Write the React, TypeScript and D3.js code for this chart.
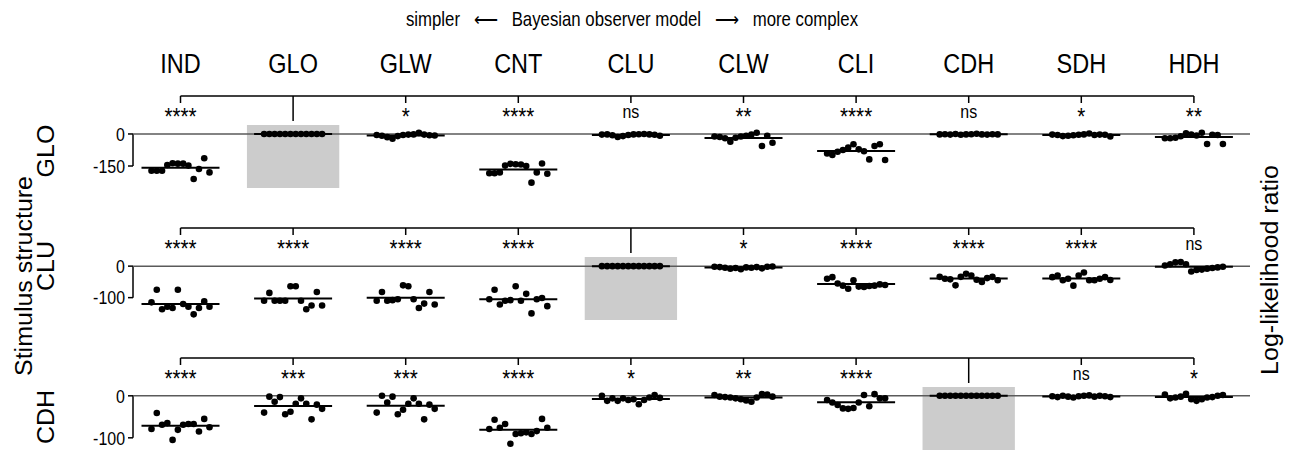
import React from "react";
import * as d3 from "d3";

// ---------- data ----------
const MODELS = ["IND", "GLO", "GLW", "CNT", "CLU", "CLW", "CLI", "CDH", "SDH", "HDH"];
const STIMULI = ["GLO", "CLU", "CDH"];
const REFERENCE = ["GLO", "CLU", "CDH"];

// log-likelihood ratio per subject (12 subjects), per model, stimulus GLO
const LLR_GLO: number[][] = [
  [-172, -172, -172, -145, -137, -139, -139, -148, -211, -164, -114, -180],
  [0, 0, 0, 0, 0, 0, 0, 0, 0, 0, 0, 0],
  [-5, -8, -15, -22, -10, -5, -3, -2, 5, -3, -6, -7],
  [-184, -184, -180, -148, -140, -142, -143, -150, -228, -180, -138, -186],
  [-3, -2, -6, -14, -10, -5, -2, -1, 0, -2, -4, -8],
  [-12, -14, -20, -36, -18, -12, -8, -3, 6, -56, -8, -41],
  [-91, -98, -83, -75, -64, -48, -72, -81, -119, -56, -48, -122],
  [-2, -1, -3, 0, -4, -2, -1, 1, -2, -3, -1, -2],
  [-3, -5, -10, -8, -6, -4, -2, 2, -5, -3, -4, -12],
  [-20, -20, -18, -11, 3, -3, -7, 6, -47, -4, -5, -47],
];
const LLR_CLU: number[][] = [
  [-115, -75, -137, -129, -133, -75, -120, -129, -153, -133, -112, -129],
  [-110, -85, -110, -110, -110, -64, -64, -110, -137, -125, -82, -125],
  [-110, -82, -110, -108, -105, -61, -64, -105, -133, -119, -82, -122],
  [-105, -75, -122, -110, -108, -64, -110, -88, -150, -105, -101, -127],
  [0, 0, 0, 0, 0, 0, 0, 0, 0, 0, 0, 0],
  [-2, -3, -5, -8, -6, -10, -4, -5, -3, -7, -2, -1],
  [-40, -35, -55, -62, -72, -45, -65, -66, -63, -62, -58, -60],
  [-34, -40, -42, -61, -34, -24, -30, -43, -50, -38, -34, -45],
  [-35, -30, -45, -40, -62, -30, -20, -45, -45, -40, -35, -44],
  [2, 6, 12, 13, 6, -17, -12, -11, -8, -6, -4, -2],
];
const LLR_CDH: number[][] = [
  [-79, -41, -69, -65, -105, -81, -69, -67, -67, -85, -55, -75],
  [-40, -2, -14, -3, -44, -38, -19, -6, -19, -56, -21, -31],
  [-40, 0, -16, -2, -44, -33, -19, -6, -19, -56, -21, -31],
  [-79, -57, -76, -67, -114, -91, -89, -87, -91, -84, -55, -76],
  [0, -12, -6, -12, -6, -10, -8, -20, -10, -4, 2, -5],
  [2, -2, -3, -4, -6, -8, -11, -14, -4, 4, 3, -2],
  [-10, -16, -22, -30, -31, -29, -16, 2, -25, 4, -6, -6],
  [0, 0, 0, 0, 0, 0, 0, 0, 0, 0, 0, 0],
  [-1, -3, 0, -2, -4, -1, 0, 1, -2, 0, -1, -3],
  [3, -6, -4, -2, 5, -8, -12, -8, -4, -3, 0, 2],
];

const SIG_GLO = ["****", "", "*", "****", "ns", "**", "****", "ns", "*", "**"];
const SIG_CLU = ["****", "****", "****", "****", "", "*", "****", "****", "****", "ns"];
const SIG_CDH = ["****", "***", "***", "****", "*", "**", "****", "", "ns", "*"];

const TICKS_GLO = [0, -150];
const TICKS_CLU = [0, -100];
const TICKS_CDH = [0, -100];

const DOMAIN_GLO: [number, number] = [-253, 42];
const DOMAIN_CLU: [number, number] = [-171, 29];
const DOMAIN_CDH: [number, number] = [-129, 21];

const ROWS = [
  { stim: STIMULI[0], ref: REFERENCE[0], llr: LLR_GLO, sig: SIG_GLO, ticks: TICKS_GLO, domain: DOMAIN_GLO },
  { stim: STIMULI[1], ref: REFERENCE[1], llr: LLR_CLU, sig: SIG_CLU, ticks: TICKS_CLU, domain: DOMAIN_CLU },
  { stim: STIMULI[2], ref: REFERENCE[2], llr: LLR_CDH, sig: SIG_CDH, ticks: TICKS_CDH, domain: DOMAIN_CDH },
];

// ---------- layout ----------
const W = 1291;
const H = 450;
const FONT = "'Liberation Sans', Arial, Helvetica, sans-serif";
const ZEROS = [134, 266, 396];
const ROW_LABEL_Y = [151, 266, 417];
const ABOVE = 9;
const BELOW = 54;
const AXIS_X = 133;
const LINE_END = 1250;
const N_SUBJ = 12;
const SX = 0.84; // horizontal squeeze of the original typography

function T(props: {
  x: number;
  y: number;
  size: number;
  anchor?: string;
  sx?: number;
  rotate?: number;
  dy?: string;
  children: React.ReactNode;
}) {
  const { x, y, size, anchor = "middle", sx = SX, rotate = 0, dy, children } = props;
  const tf = rotate
    ? `translate(${x},${y}) rotate(${rotate}) scale(1,${sx})`
    : `translate(${x},${y}) scale(${sx},1)`;
  return (
    <text transform={tf} fontSize={size} textAnchor={anchor} dy={dy} fill="#000" style={{ whiteSpace: "pre" }}>
      {children}
    </text>
  );
}

export default function App() {
  const x = d3.scalePoint<string>().domain(MODELS).range([180.5, 1193.9]);
  const step = x.step();
  const jitter = d3.scaleLinear().domain([0, N_SUBJ - 1]).range([-29, 29]);

  return (
    <svg
      width={W}
      height={H}
      style={{ position: "absolute", left: 0, top: 0, display: "block", background: "#fff" }}
      fontFamily={FONT}
    >
      {/* header */}
      <T x={632} y={26} size={20}>
        {"simpler   \u27F5   Bayesian observer model   \u27F6   more complex"}
      </T>
      {MODELS.map((m) => (
        <T key={m} x={x(m) as number} y={73} size={28}>
          {m}
        </T>
      ))}

      {/* side titles */}
      <T x={32} y={276} size={25} rotate={-90} sx={0.95}>
        Stimulus structure
      </T>
      <T x={1278} y={270} size={25} rotate={-90} sx={0.95}>
        Log-likelihood ratio
      </T>

      {ROWS.map((row, ri) => {
        const y0 = ZEROS[ri];
        const y = d3.scaleLinear().domain(row.domain).range([y0 + BELOW, y0 - ABOVE]);
        const bracketY = y0 - 38;
        const tickMin = d3.min(row.ticks) as number;
        return (
          <g key={row.stim}>
            {/* reference shading */}
            <rect
              x={(x(row.ref) as number) - step * 0.41}
              y={y(row.domain[1])}
              width={step * 0.82}
              height={y(row.domain[0]) - y(row.domain[1])}
              fill="#cccccc"
            />
            {/* row label */}
            <T x={54} y={ROW_LABEL_Y[ri]} size={25} rotate={-90} sx={0.95}>
              {row.stim}
            </T>
            {/* y axis */}
            <line x1={AXIS_X} x2={AXIS_X} y1={y(0)} y2={y(tickMin)} stroke="#000" strokeWidth={1.5} />
            {row.ticks.map((t) => (
              <g key={t}>
                <line x1={AXIS_X - 5} x2={AXIS_X} y1={y(t)} y2={y(t)} stroke="#000" strokeWidth={1.5} />
                <T x={AXIS_X - 8} y={y(t)} dy="0.36em" size={19} anchor="end">
                  {String(t)}
                </T>
              </g>
            ))}
            {/* zero line */}
            <line x1={AXIS_X} x2={LINE_END} y1={y(0)} y2={y(0)} stroke="#5a5a5a" strokeWidth={1.5} />
            {/* bracket */}
            <line
              x1={x(MODELS[0])}
              x2={x(MODELS[MODELS.length - 1])}
              y1={bracketY}
              y2={bracketY}
              stroke="#000"
              strokeWidth={1.5}
            />
            {MODELS.map((m, mi) => {
              const cx = x(m) as number;
              const isRef = m === row.ref;
              const vals = row.llr[mi];
              const mean = d3.mean(vals) as number;
              const s = row.sig[mi];
              return (
                <g key={m}>
                  <line
                    x1={cx}
                    x2={cx}
                    y1={bracketY}
                    y2={isRef ? y0 - 13 : bracketY + 7}
                    stroke="#000"
                    strokeWidth={1.5}
                  />
                  {s === "ns" ? (
                    <T x={cx} y={y0 - 16} size={19}>
                      ns
                    </T>
                  ) : s ? (
                    <T x={cx} y={y0 - 9} size={23} sx={0.9}>
                      {s}
                    </T>
                  ) : null}
                  <line x1={cx - 39} x2={cx + 39} y1={y(mean)} y2={y(mean)} stroke="#000" strokeWidth={2} />
                  {vals.map((v, i) => (
                    <circle key={i} cx={cx + jitter(i)} cy={y(v)} r={3.3} fill="#000" />
                  ))}
                </g>
              );
            })}
          </g>
        );
      })}
    </svg>
  );
}
